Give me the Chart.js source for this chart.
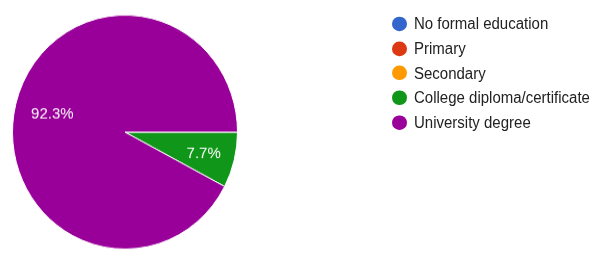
<!DOCTYPE html>
<html>
<head>
<meta charset="utf-8">
<script src="https://cdn.jsdelivr.net/npm/chart.js@4"></script>
<style>
  html, body { margin: 0; padding: 0; background: #fff; overflow: hidden; }
  #wrap { position: relative; width: 598px; height: 257px; transform: scaleY(1.04); transform-origin: 0 0; }
  #c { position: absolute; left: 0; top: 0; }
  #legend { position: absolute; left: 392px; top: 0; font-family: "Liberation Sans", Arial, sans-serif; font-size: 15px; color: #222; }
  .item { position: absolute; left: 0; height: 20px; display: flex; align-items: center; white-space: nowrap; }
  .dot { width: 14.5px; height: 14px; border-radius: 50%; margin-right: 7.5px; flex: none; }
</style>
</head>
<body>
<div id="wrap">
  <canvas id="c" width="598" height="257"></canvas>
  <div id="legend"></div>
</div>
<script>
const categories = ["No formal education", "Primary", "Secondary", "College diploma/certificate", "University degree"];
const counts = [0, 0, 0, 1, 12];
const colors = ["#3366cc", "#dc3912", "#ff9900", "#109618", "#990099"];

// HTML legend built from the arrays
const legend = document.getElementById('legend');
categories.forEach((name, i) => {
  const it = document.createElement('div');
  it.className = 'item';
  it.style.top = (12.8 + 23.7 * i) + 'px';
  const d = document.createElement('span');
  d.className = 'dot';
  d.style.background = colors[i];
  const t = document.createElement('span');
  t.textContent = name;
  it.appendChild(d); it.appendChild(t);
  legend.appendChild(it);
});

const pctLabels = {
  id: 'pctLabels',
  afterDatasetsDraw(chart) {
    const ctx = chart.ctx;
    const meta = chart.getDatasetMeta(0);
    const data = chart.data.datasets[0].data;
    const total = data.reduce((a, b) => a + b, 0);
    ctx.save();
    ctx.font = '15px "Liberation Sans", Arial, sans-serif';
    ctx.fillStyle = '#ffffff';
    ctx.textAlign = 'center';
    ctx.textBaseline = 'alphabetic';
    meta.data.forEach((arc, i) => {
      const v = data[i];
      if (!v) return;
      const frac = v / total;
      const p = arc.getProps(['x', 'y', 'startAngle', 'endAngle', 'outerRadius'], true);
      const mid = (p.startAngle + p.endAngle) / 2;
      const f = frac < 0.1 ? 0.72 : 0.665;
      const x = p.x + Math.cos(mid) * p.outerRadius * f;
      const y = p.y + Math.sin(mid) * p.outerRadius * f;
      ctx.fillText((frac * 100).toFixed(1) + '%', x, y + 5.4);
    });
    ctx.restore();
  }
};

new Chart(document.getElementById('c'), {
  type: 'pie',
  data: {
    labels: categories,
    datasets: [{
      data: counts,
      backgroundColor: colors,
      borderColor: '#ffffff',
      borderWidth: 1
    }]
  },
  options: {
    responsive: false,
    animation: false,
    rotation: 90,
    layout: { padding: { left: 12, right: 360, top: 14, bottom: 17 } },
    plugins: {
      legend: { display: false },
      tooltip: { enabled: false }
    }
  },
  plugins: [pctLabels]
});
</script>
</body>
</html>
